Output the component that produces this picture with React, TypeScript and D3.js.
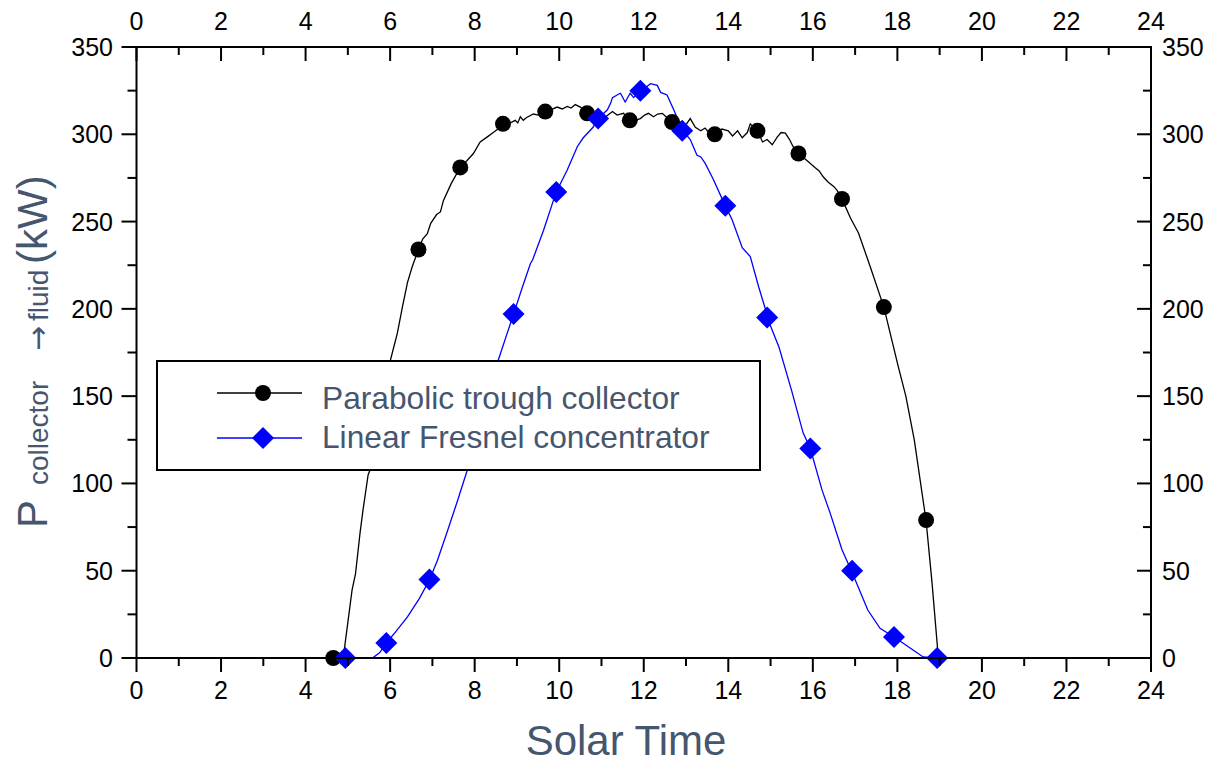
import React from "react";
import * as d3 from "d3";

// ---- data ----
const ptcTime = [4.655, 4.89, 5.1, 5.18, 5.29, 5.36, 5.48, 5.53, 5.66, 5.8, 6.0, 6.17, 6.29, 6.41, 6.52, 6.67, 6.77, 6.88, 6.96, 7.1, 7.19, 7.26, 7.45, 7.66, 7.82, 7.97, 8.13, 8.3, 8.44, 8.55, 8.68, 8.8, 8.96, 9.02, 9.08, 9.15, 9.22, 9.39, 9.5, 9.67, 9.8, 9.95, 10.07, 10.19, 10.28, 10.38, 10.5, 10.66, 10.8, 10.95, 11.1, 11.26, 11.37, 11.52, 11.68, 11.8, 11.92, 12.02, 12.11, 12.23, 12.33, 12.44, 12.55, 12.67, 12.9, 13.0, 13.1, 13.22, 13.35, 13.45, 13.56, 13.68, 13.85, 14.0, 14.1, 14.22, 14.33, 14.45, 14.52, 14.69, 14.81, 14.92, 15.04, 15.16, 15.25, 15.35, 15.45, 15.53, 15.66, 15.86, 16.05, 16.15, 16.25, 16.36, 16.5, 16.57, 16.69, 16.89, 17.08, 17.36, 17.68, 18.02, 18.2, 18.4, 18.55, 18.68, 18.82, 18.97, 19.1];
const ptcValue = [0, 0, 39, 48, 72, 85, 105, 108, 128, 150, 170, 186, 201, 215, 224, 234, 240, 243, 249, 254, 255.5, 262, 272, 281, 285, 289, 295.6, 298.5, 301, 303, 306.5, 306, 308, 306.5, 310, 308, 309.5, 311.6, 311, 313.4, 314, 315.6, 314.5, 316, 315, 317, 315.6, 312, 310, 311, 310, 313, 311, 312, 308, 308, 309, 311, 312, 310, 311.6, 312, 309.5, 307, 307, 305.5, 309, 304, 302, 303.6, 300.5, 300.5, 303, 302, 299, 302, 298, 301, 306, 302, 295.6, 297, 294, 298.5, 301, 300.7, 297, 293, 289, 285, 281, 279, 275.5, 272.7, 270, 268, 263, 252, 243.5, 224, 201, 167, 150, 125, 100, 78.5, 43, 0, 0];

const lfcTime = [4.94, 5.58, 5.75, 5.91, 6.13, 6.41, 6.69, 6.93, 7.12, 7.36, 7.6, 7.83, 7.92, 8.1, 8.3, 8.55, 8.92, 9.13, 9.32, 9.37, 9.63, 9.93, 10.19, 10.43, 10.57, 10.8, 10.92, 11.14, 11.22, 11.26, 11.37, 11.45, 11.56, 11.68, 11.76, 11.92, 12.05, 12.16, 12.32, 12.4, 12.55, 12.71, 12.91, 13.1, 13.26, 13.35, 13.45, 13.63, 13.93, 14.09, 14.33, 14.52, 14.72, 14.87, 14.92, 15.2, 15.5, 15.77, 15.94, 16.22, 16.41, 16.69, 16.93, 17.3, 17.59, 17.92, 18.13, 18.37, 18.61, 18.94, 19.2];
const lfcValue = [0, 0, 3, 8.6, 15, 23.5, 34, 44.7, 56, 73, 90.5, 108, 115, 133, 152, 170, 197, 212.5, 226, 228, 245, 267, 279.5, 293, 298, 304, 309, 314, 318, 321, 322.5, 323.5, 318.5, 323.5, 321, 325, 327, 329, 328, 324, 322.5, 314, 302.5, 297, 288, 287, 283.5, 275, 259, 251, 235, 230, 212.5, 200.5, 195, 178, 153, 129, 120, 96, 83, 62, 49, 27.5, 17, 12, 8.6, 4.6, 0.6, 0, 0];

const ptcMarkerTime = [4.655, 5.66, 6.67, 7.66, 8.67, 9.67, 10.66, 11.67, 12.67, 13.68, 14.69, 15.66, 16.69, 17.68, 18.68];
const ptcMarkerValue = [0, 128, 234, 281, 306, 313, 312, 308, 307, 300, 302, 289, 263, 201, 79];
const lfcMarkerTime = [4.94, 5.91, 6.93, 7.92, 8.92, 9.93, 10.92, 11.92, 12.91, 13.93, 14.92, 15.94, 16.93, 17.92, 18.94];
const lfcMarkerValue = [0, 8.6, 45, 115, 197, 267, 309, 325, 302, 259, 195, 120, 50, 12, 0];

const xMajorTicks = [0, 2, 4, 6, 8, 10, 12, 14, 16, 18, 20, 22, 24];
const yMajorTicks = [0, 50, 100, 150, 200, 250, 300, 350];
const seriesNames = ["Parabolic trough collector", "Linear Fresnel concentrator"];

const W = 1217;
const H = 764;
const L = 136.5, R = 1151, T = 47, B = 658;
const FONT = "'Liberation Sans', Arial, sans-serif";
const TITLE_COLOR = "#46566e";

export default function App() {
  const x = d3.scaleLinear().domain([0, 24]).range([L, R]);
  const y = d3.scaleLinear().domain([0, 350]).range([B, T]);
  const xMinor = d3.range(0, 25, 1).filter((v) => v % 2 !== 0);
  const yMinor = d3.range(25, 350, 50);

  const line = d3
    .line<[number, number]>()
    .x((d) => x(d[0]))
    .y((d) => y(d[1]));
  const ptcPts = ptcTime.map((t, i) => [t, ptcValue[i]] as [number, number]);
  const lfcPts = lfcTime.map((t, i) => [t, lfcValue[i]] as [number, number]);
  const diamond = (cx: number, cy: number, r: number) =>
    `M${cx},${cy - r}L${cx + r},${cy}L${cx},${cy + r}L${cx - r},${cy}Z`;

  const legX = 157, legY = 361, legW = 603, legH = 109;
  const row1 = 393, row2 = 438;

  return (
    <svg
      width={W}
      height={H}
      style={{ position: "absolute", left: 0, top: 0, background: "#fff" }}
      fontFamily={FONT}
    >
      <rect x={0} y={0} width={W} height={H} fill="#fff" />
      {/* series lines */}
      <path d={line(ptcPts) || ""} fill="none" stroke="#000" strokeWidth={1.3} />
      <path d={line(lfcPts) || ""} fill="none" stroke="#0000ff" strokeWidth={1.3} />
      {ptcMarkerTime.map((t, i) => (
        <circle key={"c" + i} cx={x(t)} cy={y(ptcMarkerValue[i])} r={8} fill="#000" />
      ))}
      {lfcMarkerTime.map((t, i) => (
        <path key={"d" + i} d={diamond(x(t), y(lfcMarkerValue[i]), 11)} fill="#0000ff" />
      ))}

      {/* frame */}
      <rect x={L} y={T} width={R - L} height={B - T} fill="none" stroke="#000" strokeWidth={2} />
      {xMajorTicks.map((v) => (
        <g key={"bx" + v}>
          <line x1={x(v)} x2={x(v)} y1={B} y2={B + 14} stroke="#000" strokeWidth={2} />
          <text x={x(v)} y={699} textAnchor="middle" fontSize={25}>{v}</text>
          <line x1={x(v)} x2={x(v)} y1={T} y2={T + 14} stroke="#000" strokeWidth={2} />
          <text x={x(v)} y={30} textAnchor="middle" fontSize={25}>{v}</text>
        </g>
      ))}
      {xMinor.map((v) => (
        <g key={"mx" + v}>
          <line x1={x(v)} x2={x(v)} y1={B} y2={B + 8} stroke="#000" strokeWidth={2} />
          <line x1={x(v)} x2={x(v)} y1={T} y2={T + 8} stroke="#000" strokeWidth={2} />
        </g>
      ))}
      {yMajorTicks.map((v) => (
        <g key={"ly" + v}>
          <line x1={L - 15} x2={L} y1={y(v)} y2={y(v)} stroke="#000" strokeWidth={2} />
          <text x={113} y={y(v)} dy="0.36em" textAnchor="end" fontSize={25}>{v}</text>
          <line x1={R - 14} x2={R} y1={y(v)} y2={y(v)} stroke="#000" strokeWidth={2} />
          <text x={1162} y={y(v)} dy="0.36em" textAnchor="start" fontSize={25}>{v}</text>
        </g>
      ))}
      {yMinor.map((v) => (
        <g key={"my" + v}>
          <line x1={L - 9} x2={L} y1={y(v)} y2={y(v)} stroke="#000" strokeWidth={2} />
          <line x1={R - 8} x2={R} y1={y(v)} y2={y(v)} stroke="#000" strokeWidth={2} />
        </g>
      ))}

      {/* axis titles */}
      <text x={626} y={755} textAnchor="middle" fontSize={42} fill={TITLE_COLOR}>
        Solar Time
      </text>
      <g transform="translate(47,528) rotate(-90)">
        <text y={0} fill={TITLE_COLOR}>
          <tspan x={0} fontSize={42}>P</tspan>
          <tspan x={43} fontSize={28} dy={1}>collector</tspan>
          <tspan x={177} fontSize={30} fontFamily="'DejaVu Sans', sans-serif">→</tspan>
          <tspan x={207} fontSize={28}>fluid</tspan>
          <tspan x={264} fontSize={42} dy={-1}>(kW)</tspan>
        </text>
      </g>

      {/* legend */}
      <rect x={legX} y={legY} width={legW} height={legH} fill="#fff" stroke="#000" strokeWidth={2} />
      <line x1={217} x2={302} y1={row1} y2={row1} stroke="#000" strokeWidth={1.3} />
      <circle cx={263} cy={row1} r={8} fill="#000" />
      <line x1={217} x2={302} y1={row2} y2={row2} stroke="#0000ff" strokeWidth={1.3} />
      <path d={diamond(263, row2, 11)} fill="#0000ff" />
      <text x={322} y={409} fontSize={31.7} fill={TITLE_COLOR}>{seriesNames[0]}</text>
      <text x={322} y={448} fontSize={31.7} fill={TITLE_COLOR}>{seriesNames[1]}</text>
    </svg>
  );
}
